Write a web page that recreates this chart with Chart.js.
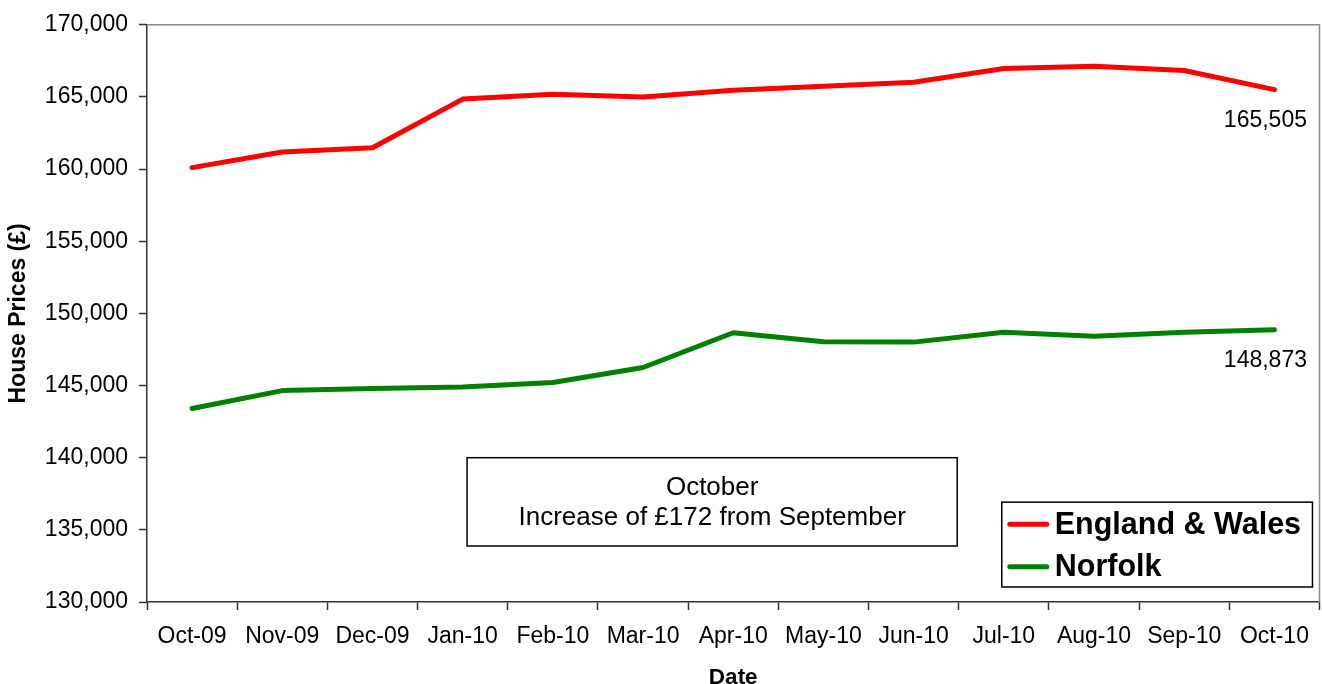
<!DOCTYPE html>
<html><head><meta charset="utf-8">
<script src="https://cdn.jsdelivr.net/npm/chart.js@4/dist/chart.umd.min.js"></script>
<style>html,body{margin:0;padding:0;background:#fff}#wrap{width:1322px;height:684px;position:relative}</style>
</head><body><div id="wrap"><canvas id="c" width="1322" height="684"></canvas></div>
<script>
const categories = ["Oct-09","Nov-09","Dec-09","Jan-10","Feb-10","Mar-10","Apr-10","May-10","Jun-10","Jul-10","Aug-10","Sep-10","Oct-10"];
const englandWales = [160100,161180,161480,164850,165190,164990,165470,165750,166020,166970,167130,166830,165505];
const norfolk = [143410,144650,144790,144900,145210,146250,148660,148040,148010,148700,148420,148701,148873];
const yTicks = {min:130000, max:170000, step:5000};
const noteLines = ["October","Increase of £172 from September"];
const FONT = '"Liberation Sans", Arial, sans-serif';

const fmt = v => v.toLocaleString('en-GB');

const extras = {
  id:'extras',
  afterDraw(chart){
    const ctx = chart.ctx, a = chart.chartArea;
    const W = a.right - a.left, H = a.bottom - a.top;
    ctx.save();
    // frame top and right
    ctx.strokeStyle = '#8c8c8c'; ctx.lineWidth = 1.5;
    ctx.beginPath();
    ctx.moveTo(a.left, a.top); ctx.lineTo(a.right, a.top); ctx.lineTo(a.right, a.bottom);
    ctx.stroke();
    // end data labels
    ctx.fillStyle = '#000'; ctx.font = '23px ' + FONT;
    ctx.textAlign = 'center'; ctx.textBaseline = 'middle';
    chart.data.datasets.forEach((ds, i) => {
      const meta = chart.getDatasetMeta(i);
      const last = meta.data[meta.data.length - 1];
      ctx.fillText(fmt(ds.data[ds.data.length - 1]), last.x - 9, last.y + 31);
    });
    // annotation box
    const bx0 = a.left + 0.273*W, bx1 = a.left + 0.691*W, by0 = a.top + 0.75*H, by1 = a.top + 0.903*H;
    ctx.fillStyle = '#fff'; ctx.fillRect(bx0, by0, bx1-bx0, by1-by0);
    ctx.strokeStyle = '#000'; ctx.lineWidth = 1.5;
    ctx.strokeRect(bx0, by0, bx1-bx0, by1-by0);
    ctx.fillStyle = '#000'; ctx.font = '26px ' + FONT;
    const cx = (bx0+bx1)/2, cy = (by0+by1)/2;
    ctx.fillText(noteLines[0], cx, cy - 14);
    ctx.fillText(noteLines[1], cx, cy + 16);
    // legend box
    const lx0 = a.left + 0.729*W, lx1 = a.left + 0.994*W, ly0 = a.top + 0.827*H, ly1 = a.top + 0.974*H;
    ctx.fillStyle = '#fff'; ctx.fillRect(lx0, ly0, lx1-lx0, ly1-ly0);
    ctx.strokeStyle = '#000'; ctx.lineWidth = 1.5;
    ctx.strokeRect(lx0, ly0, lx1-lx0, ly1-ly0);
    ctx.font = 'bold 30.5px ' + FONT; ctx.textAlign = 'left';
    const rowH = (ly1-ly0)/2;
    chart.data.datasets.forEach((ds, i) => {
      const ry = ly0 + rowH*(i+0.5) + 1;
      ctx.strokeStyle = ds.borderColor; ctx.lineWidth = 5; ctx.lineCap = 'round';
      ctx.beginPath(); ctx.moveTo(lx0 + 8, ry); ctx.lineTo(lx0 + 45, ry); ctx.stroke();
      ctx.fillStyle = '#000';
      ctx.fillText(ds.label, lx0 + 53, ry + 1);
    });
    ctx.restore();
  }
};

new Chart(document.getElementById('c'), {
  type:'line',
  data:{
    labels: categories,
    datasets:[
      {label:'England & Wales', data: englandWales, borderColor:'#ff0000', backgroundColor:'#ff0000', borderWidth:5, pointRadius:0, tension:0, borderCapStyle:'round', borderJoinStyle:'round'},
      {label:'Norfolk', data: norfolk, borderColor:'#008000', backgroundColor:'#008000', borderWidth:5, pointRadius:0, tension:0, borderCapStyle:'round', borderJoinStyle:'round'}
    ]
  },
  options:{
    responsive:false, animation:false, devicePixelRatio:1,
    layout:{padding:{top:23, right:2, left:0, bottom:0}},
    plugins:{legend:{display:false}, tooltip:{enabled:false}},
    scales:{
      x:{
        offset:true,
        grid:{offset:true, drawOnChartArea:false, tickLength:8, color:'#333', tickWidth:1.5},
        border:{color:'#333', width:1.5},
        ticks:{color:'#000', font:{family:FONT, size:23}, padding:13, maxRotation:0, autoSkip:false},
        title:{display:true, text:'Date', color:'#000', font:{family:FONT, size:22.5, weight:'bold', lineHeight:1}, padding:{top:0,bottom:-5}},
        afterFit(s){ s.height = 82; }
      },
      y:{
        min:yTicks.min, max:yTicks.max,
        grid:{drawOnChartArea:false, tickLength:8, color:'#333', tickWidth:1.5},
        border:{color:'#333', width:1.5},
        ticks:{stepSize:yTicks.step, color:'#000', font:{family:FONT, size:23}, padding:11, callback:v=>fmt(v)},
        title:{display:true, text:'House Prices (£)', color:'#000', font:{family:FONT, size:23, weight:'bold', lineHeight:1.2}, padding:{top:5,bottom:0}},
        afterFit(s){ s.width = 147; }
      }
    }
  },
  plugins:[extras]
});
</script></body></html>
